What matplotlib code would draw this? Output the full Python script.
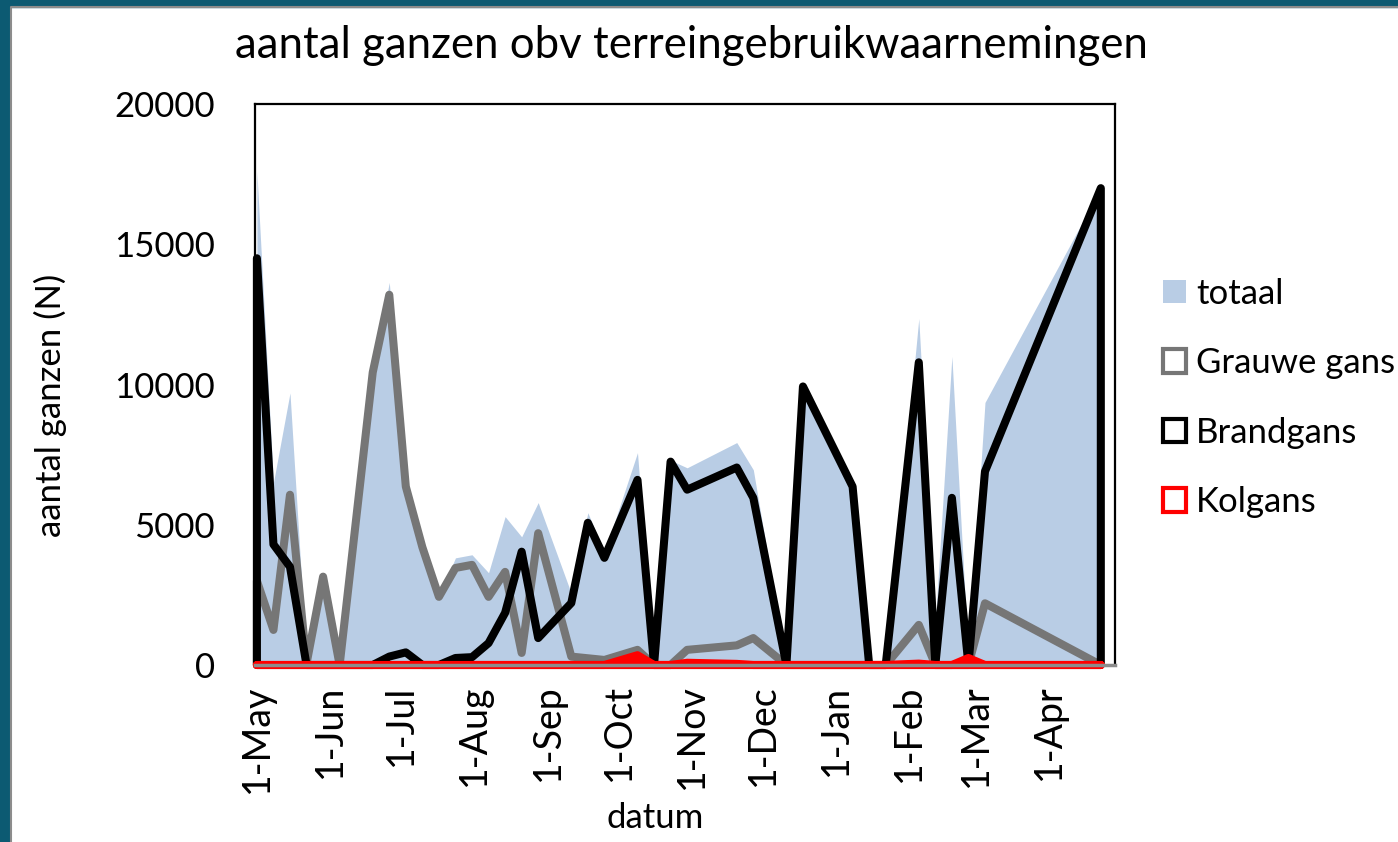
import numpy as np
import pandas as pd
import matplotlib
matplotlib.use("Agg")
import matplotlib.pyplot as plt
import matplotlib.dates as mdates
from matplotlib.patches import Patch

plt.rcParams['font.family'] = ['Lato', 'DejaVu Sans']

# weekly counts
dates = ['2012-05-01', '2012-05-08', '2012-05-15', '2012-05-22', '2012-05-29', '2012-06-05',
         '2012-06-19', '2012-06-26', '2012-07-03', '2012-07-10', '2012-07-17', '2012-07-24',
         '2012-07-31', '2012-08-07', '2012-08-14', '2012-08-21', '2012-08-28', '2012-09-11',
         '2012-09-18', '2012-09-25', '2012-10-09', '2012-10-16', '2012-10-23', '2012-10-30',
         '2012-11-20', '2012-11-27', '2012-12-11', '2012-12-18', '2013-01-08', '2013-01-15',
         '2013-01-22', '2013-02-05', '2013-02-12', '2013-02-19', '2013-02-26', '2013-03-05',
         '2013-04-23']
totaal = [17600, 6500, 9700, 200, 3200, 0, 10500, 13640, 6850, 4250, 2450, 3820,
          3930, 3290, 5290, 4570, 5790, 2550, 5430, 4000, 7570, 0, 7300, 7030,
          7930, 6960, 0, 9950, 6400, 0, 0, 12350, 1500, 11000, 250, 9360, 17000]
grauwe = [3000, 1250, 6070, 50, 3150, 0, 10430, 13200, 6360, 4200, 2430, 3460,
          3570, 2430, 3320, 430, 4700, 300, 240, 180, 540, 0, 0, 540,
          700, 960, 0, 0, 0, 0, 0, 1430, 0, 0, 0, 2200, 0]
brand = [14500, 4300, 3500, 0, 0, 0, 0, 300, 450, 0, 0, 250,
         280, 780, 1860, 4040, 960, 2210, 5070, 3820, 6600, 0, 7250, 6250,
         7040, 5960, 0, 9930, 6360, 0, 0, 10790, 0, 5960, 0, 6900, 17000]
kolgans = [0, 0, 0, 0, 0, 0, 0, 0, 0, 0, 0, 0,
           0, 0, 0, 0, 0, 0, 0, 0, 350, 0, 0, 80,
           40, 0, 0, 0, 0, 0, 0, 50, 0, 0, 250, 0, 0]

x = pd.to_datetime(dates)
xn = mdates.date2num(x)

W, H = 1398, 842
fig = plt.figure(figsize=(W / 100, H / 100), dpi=100)
ax = fig.add_axes([255 / W, 1 - 665 / H, 860 / W, 561 / H])

ax.fill_between(xn, 0, totaal, color='#B9CDE5', lw=0, zorder=1)


def area_outline(vals, color, fill='none'):
    px = np.concatenate([[xn[0]], xn, [xn[-1]]])
    py = np.concatenate([[0], vals, [0]])
    ax.fill(px, py, facecolor=fill, edgecolor=color, lw=5.8,
            joinstyle='round', zorder=3, clip_on=False)


area_outline(grauwe, '#767676')
area_outline(brand, 'black')
area_outline(kolgans, '#FF0000', fill='#FF0000')

ax.set_xlim(xn[0] - 0.8, xn[0] + 363)
ax.set_ylim(0, 20000)
ax.set_yticks([0, 5000, 10000, 15000, 20000])
ax.xaxis.set_major_locator(mdates.MonthLocator(bymonthday=1))
ax.xaxis.set_major_formatter(mdates.DateFormatter('%-d-%b'))
ax.tick_params(axis='x', labelrotation=90, length=0, labelsize=27, pad=14)
ax.tick_params(axis='y', length=0, labelsize=25, pad=29)

for s in ['top', 'left', 'right']:
    ax.spines[s].set_color('black')
    ax.spines[s].set_linewidth(1.6)
ax.spines['bottom'].set_color('#8C8C8C')
ax.spines['bottom'].set_linewidth(2.5)
ax.spines['bottom'].set_zorder(4)

fig.text(655 / W, 1 - 818 / H, 'datum', ha='center', va='center', fontsize=25)
fig.text(50 / W, 1 - 405 / H, 'aantal ganzen (N)', ha='center', va='center',
         rotation=90, fontsize=25)
fig.text(691 / W, 1 - 45 / H, 'aantal ganzen obv terreingebruikwaarnemingen',
         ha='center', va='center', fontsize=31.5)

handles = [Patch(facecolor='#B9CDE5', edgecolor='none', label='totaal'),
           Patch(facecolor='white', edgecolor='#767676', lw=3, label='Grauwe gans'),
           Patch(facecolor='white', edgecolor='black', lw=3, label='Brandgans'),
           Patch(facecolor='white', edgecolor='#FF0000', lw=3, label='Kolgans')]
fig.legend(handles=handles, loc='center left', bbox_to_anchor=(1163 / W, 1 - 398 / H),
           frameon=False, fontsize=25, handlelength=0.65, handleheight=0.65,
           handletextpad=0.3, labelspacing=1.08, borderpad=0, borderaxespad=0)

# teal frame around the picture
fig.patches.append(plt.Rectangle((0, 0), 0.0075, 1, transform=fig.transFigure,
                                 color='#0C5A72', zorder=0))
fig.patches.append(plt.Rectangle((0, 0.992), 1, 0.008, transform=fig.transFigure,
                                 color='#0C5A72', zorder=0))
fig.lines.append(plt.Line2D([0.0082, 0.0082, 1], [0, 0.9915, 0.9915],
                            transform=fig.transFigure, color='#8C8C8C', lw=1.5))

fig.savefig('out.png', dpi=100)
